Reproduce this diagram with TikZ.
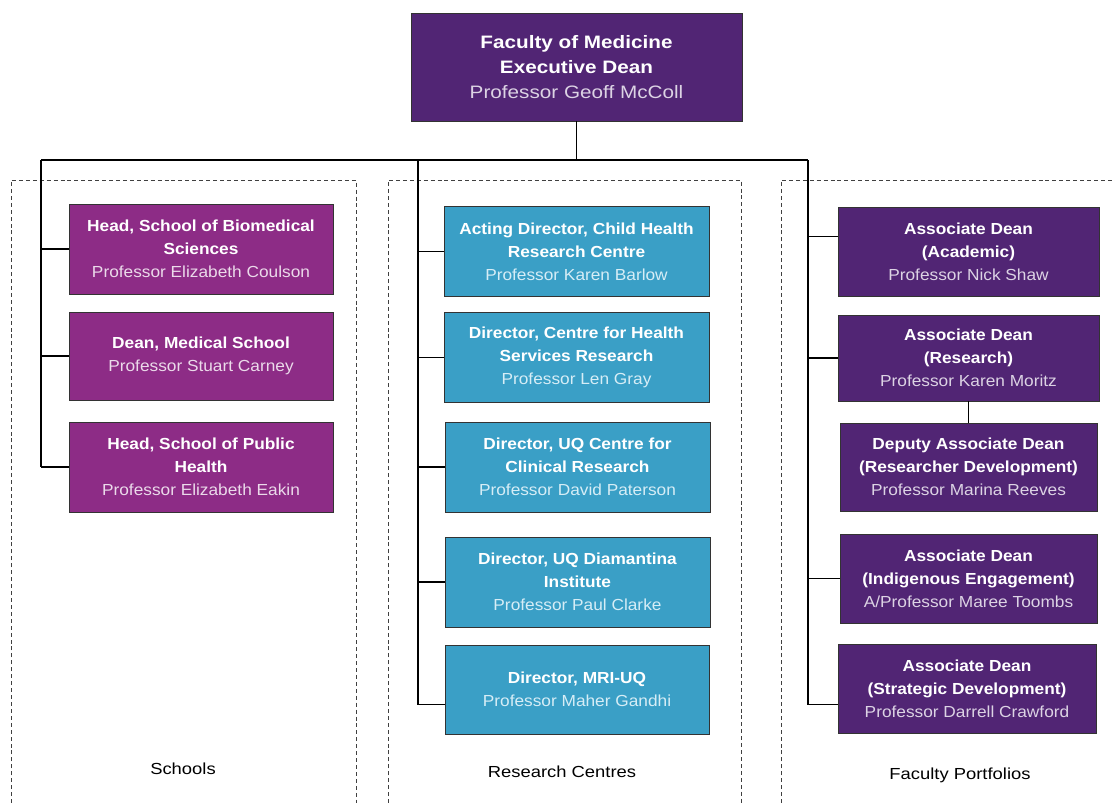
\documentclass[tikz,border=0pt]{standalone}
\usepackage{fontspec}
\setmainfont[FakeStretch=1.15]{Liberation Sans}
\newfontfamily\boxfont[FakeStretch=1.08]{Liberation Sans}
\usetikzlibrary{calc}
\definecolor{darkpurple}{HTML}{512574}
\definecolor{magentabox}{HTML}{8D2C86}
\definecolor{bluebox}{HTML}{3A9FC6}
\definecolor{namepurple}{HTML}{DCD3E4}
\definecolor{namemagenta}{HTML}{EBDAEA}
\definecolor{nameblue}{HTML}{D6EDF6}
\tikzset{
  px/.style={x=0.75pt,y=-0.75pt},
  orgbox/.style 2 args={draw=black!80, line width=0.6pt, text=white, align=center,
    inner sep=0pt, minimum width=#1*0.75pt, minimum height=#2*0.75pt,
    font=\boxfont\fontsize{12}{17.25}\selectfont},
  topbox/.style={orgbox={331}{108}, fill=darkpurple, font=\rmfamily\fontsize{13.5}{18.75}\selectfont},
  schoolbox/.style={orgbox={264}{90}, fill=magentabox},
  centrebox/.style={orgbox={265}{90}, fill=bluebox},
  portbox/.style={orgbox={260}{89}, fill=darkpurple},
  conn/.style={draw=black, line width=1.2pt},
  group/.style={draw=black!75, line width=0.6pt, dash pattern=on 3pt off 2.2pt},
  grouplabel/.style={font=\fontsize{12}{14}\selectfont, text=black}
}
\begin{document}
\begin{tikzpicture}[px]
\useasboundingbox (0,0) rectangle (1115,803);
% dashed group frames
\draw[group] (11,803) -- (11,180) -- (356,180) -- (356,803);
\draw[group] (388,803) -- (388,180) -- (741,180) -- (741,803);
\draw[group] (781,803) -- (781,180) -- (1115,180);
% top
\node[topbox] (top) at (576.5,67) {\textbf{Faculty of Medicine}\\\textbf{Executive Dean}\\{\color{namepurple}Professor Geoff McColl}};
% schools
\node[schoolbox] (s1) at (201,249) {\textbf{Head, School of Biomedical}\\\textbf{Sciences}\\{\color{namemagenta}Professor Elizabeth Coulson}};
\node[schoolbox,minimum height=88*0.75pt] (s2) at (201,356) {\textbf{Dean, Medical School}\\{\color{namemagenta}Professor Stuart Carney}};
\node[schoolbox] (s3) at (201,467) {\textbf{Head, School of Public}\\\textbf{Health}\\{\color{namemagenta}Professor Elizabeth Eakin}};
% research centres
\node[centrebox] (c1) at (576.5,251.5) {\textbf{Acting Director, Child Health}\\\textbf{Research Centre}\\{\color{nameblue}Professor Karen Barlow}};
\node[centrebox] (c2) at (576.5,357.5) {\textbf{Director, Centre for Health}\\\textbf{Services Research}\\{\color{nameblue}Professor Len Gray}};
\node[centrebox] (c3) at (577.5,467) {\textbf{Director, UQ Centre for}\\\textbf{Clinical Research}\\{\color{nameblue}Professor David Paterson}};
\node[centrebox] (c4) at (577.5,582) {\textbf{Director, UQ Diamantina}\\\textbf{Institute}\\{\color{nameblue}Professor Paul Clarke}};
\node[centrebox,minimum width=264*0.75pt,minimum height=89*0.75pt] (c5) at (577,689.5) {\textbf{Director, MRI-UQ}\\{\color{nameblue}Professor Maher Gandhi}};
% portfolios
\node[portbox,minimum width=261*0.75pt] (p1) at (968.5,251.5) {\textbf{Associate Dean}\\\textbf{(Academic)}\\{\color{namepurple}Professor Nick Shaw}};
\node[portbox,minimum width=261*0.75pt,minimum height=86*0.75pt] (p2) at (968.5,358) {\textbf{Associate Dean}\\\textbf{(Research)}\\{\color{namepurple}Professor Karen Moritz}};
\node[portbox,minimum width=257*0.75pt,minimum height=88*0.75pt] (p3) at (968.5,467) {\textbf{Deputy Associate Dean}\\\textbf{(Researcher Development)}\\{\color{namepurple}Professor Marina Reeves}};
\node[portbox,minimum width=257*0.75pt] (p4) at (968.5,578.5) {\textbf{Associate Dean}\\\textbf{(Indigenous Engagement)}\\{\color{namepurple}A/Professor Maree Toombs}};
\node[portbox,minimum width=258*0.75pt] (p5) at (967,688.5) {\textbf{Associate Dean}\\\textbf{(Strategic Development)}\\{\color{namepurple}Professor Darrell Crawford}};
% group labels
\node[grouplabel] (gs) at (183,769) {Schools};
\node[grouplabel] (gc) at (562,772) {Research Centres};
\node[grouplabel] (gp) at (960,775) {Faculty Portfolios};
% trunk
\coordinate (jL) at (41,160);
\coordinate (jM) at (418,160);
\coordinate (jR) at (808,160);
\path (c5.north west) ++(0,60) coordinate (a5);
\path (p1.north west) ++(0,30) coordinate (b1);
\path (p5.north west) ++(0,61) coordinate (b5);
\draw[conn] (top.south) -- (top.south |- jL);
\draw[conn] (jL) -- (jR);
\draw[conn] (jL) -- (jL |- s3.west);
\draw[conn] (jM) -- (jM |- a5);
\draw[conn] (jR) -- (jR |- b5);
% branches
\foreach \n in {s1,s2,s3} {\draw[conn] (jL |- \n.west) -- (\n.west);}
\foreach \n in {c1,c2,c3,c4} {\draw[conn] (jM |- \n.west) -- (\n.west);}
\draw[conn] (jM |- a5) -- (a5);
\draw[conn] (jR |- b1) -- (b1);
\foreach \n in {p2,p4} {\draw[conn] (jR |- \n.west) -- (\n.west);}
\draw[conn] (jR |- b5) -- (b5);
\draw[conn] (p2.south) -- (p3.north);
\end{tikzpicture}
\end{document}
